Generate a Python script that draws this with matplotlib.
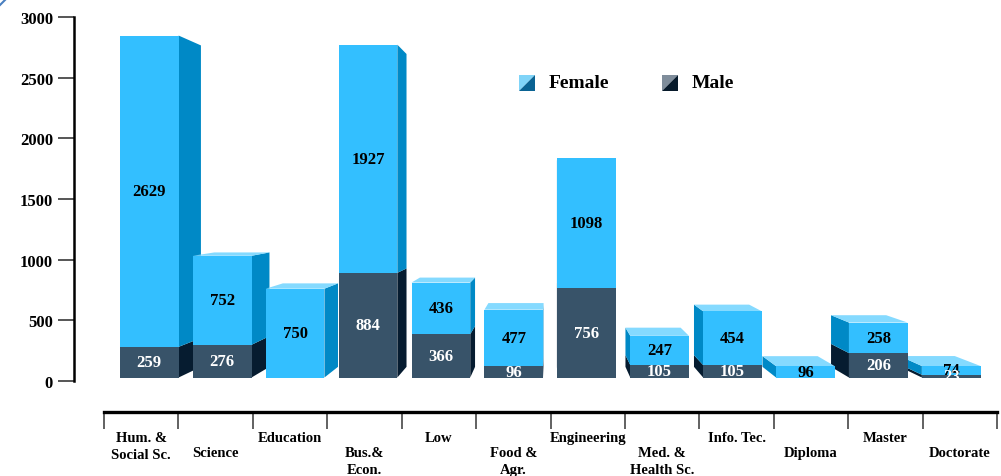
import numpy as np
import matplotlib.pyplot as plt
from matplotlib.patches import Polygon, Rectangle
from matplotlib.lines import Line2D

plt.rcParams['font.family'] = ['Liberation Serif', 'DejaVu Serif']
plt.rcParams['font.weight'] = 'bold'

categories = ['Hum. &\nSocial Sc.', 'Science', 'Education', 'Bus.&\nEcon.', 'Low',
              'Food &\nAgr.', 'Engineering', 'Med. &\nHealth Sc.', 'Info. Tec.',
              'Diploma', 'Master', 'Doctorate']
male = [259, 276, 0, 884, 366, 96, 756, 105, 105, 0, 206, 23]
female = [2629, 752, 750, 1927, 436, 477, 1098, 247, 454, 96, 258, 74]
yticks = [0, 500, 1000, 1500, 2000, 2500, 3000]

# colours: front, side, top
F_col = ('#33BFFF', '#0089C6', '#85DAFF')
M_col = ('#385369', '#061C30', '#5A7085')

W, H = 1001, 477
fig = plt.figure(figsize=(W / 100, H / 100), dpi=100)


def rect(x0, y0, x1, y1):
    # layout box given in pixels from the top-left corner
    return [x0 / W, 1 - y1 / H, (x1 - x0) / W, (y1 - y0) / H]


# y axis
ax_y = fig.add_axes(rect(74, 18, 1000, 382))
ax_y.set_ylim(0, 3000)
ax_y.set_xlim(0, 1)
for k in ['top', 'right', 'bottom']:
    ax_y.spines[k].set_visible(False)
ax_y.spines['left'].set_linewidth(1.8)
ax_y.set_xticks([])
ax_y.set_yticks(yticks)
ax_y.tick_params(axis='y', direction='out', length=11.5, width=1.4, color='#555555',
                 labelsize=12, pad=3.6)
ax_y.patch.set_visible(False)

# bars (3d boxes in perspective towards a vanishing point)
ax_b = fig.add_axes(rect(112.85, 23.3, 987.65, 378.5))
ax_b.set_xlim(-0.5, 11.5)
ax_b.set_ylim(0, 3000)
ax_b.axis('off')

vx, vy, s = 5.5, 1500, 0.94
w = 0.805


def proj(x, y):
    return (vx + (x - vx) * s, vy + (y - vy) * s)


def box(i, y0, y1, cols, top):
    x0, x1 = i - w / 2, i + w / 2
    xe = x1 if i < vx else x0
    ax_b.add_patch(Polygon([(xe, y0), (xe, y1), proj(xe, y1), proj(xe, y0)],
                           closed=True, fc=cols[1], ec='none'))
    if top and y1 < vy:
        ax_b.add_patch(Polygon([(x0, y1), (x1, y1), proj(x1, y1), proj(x0, y1)],
                               closed=True, fc=cols[2], ec='none'))
    ax_b.add_patch(Rectangle((x0, y0), w, y1 - y0, fc=cols[0], ec='none'))


order = [i for i in range(12) if i < vx] + [i for i in range(11, -1, -1) if i > vx]
for i in order:
    m, f = male[i], female[i]
    if m > 0:
        box(i, 0, m, M_col, f == 0)
    if f > 0:
        box(i, m, m + f, F_col, True)

for i in range(12):
    m, f = male[i], female[i]
    if f > 0:
        ax_b.text(i, m + f / 2, str(f), ha='center', va='center', fontsize=12,
                  color='black', zorder=5)
    if m > 0:
        ax_b.text(i, m / 2, str(m), ha='center', va='center', fontsize=12,
                  color='white', zorder=5)

# x axis with category labels
ax_x = fig.add_axes(rect(104, 300, 997, 413))
ax_x.set_xlim(0, 12)
ax_x.set_ylim(0, 1)
for k in ['top', 'right', 'left']:
    ax_x.spines[k].set_visible(False)
ax_x.spines['bottom'].set_linewidth(2.4)
ax_x.set_yticks([])
ax_x.set_xticks(range(13))
ax_x.set_xticklabels([])
ax_x.tick_params(axis='x', direction='out', length=12.2, width=1.3, color='#555555')
ax_x.patch.set_visible(False)
for i, c in enumerate(categories):
    off = 13.5 if i % 2 == 0 else 24.3
    ax_x.annotate(c, xy=(i + 0.5, 0), xycoords=('data', 'axes fraction'),
                  xytext=(0, -off), textcoords='offset points', ha='center', va='top',
                  fontsize=10.5, linespacing=1.4)

# legend
def legend_item(x, y, c_light, c_dark, label):
    sz = 16
    pts = lambda p: [(px / W, 1 - py / H) for px, py in p]
    fig.patches.append(Polygon(pts([(x, y), (x + sz, y), (x, y + sz)]), closed=True,
                               fc=c_light, ec='none', transform=fig.transFigure))
    fig.patches.append(Polygon(pts([(x + sz, y), (x + sz, y + sz), (x, y + sz)]), closed=True,
                               fc=c_dark, ec='none', transform=fig.transFigure))
    fig.text((x + 30) / W, 1 - (y + 8) / H, label, fontsize=14, va='center', ha='left')


legend_item(519, 76, '#80D4F8', '#0A6393', 'Female')
legend_item(662, 76, '#7F8D9B', '#071A2B', 'Male')

fig.lines.append(Line2D([0, 6 / W], [1 - 6 / H, 1], color='#4A7FC0', lw=1.5,
                        transform=fig.transFigure))

fig.savefig('out.png', dpi=100)
